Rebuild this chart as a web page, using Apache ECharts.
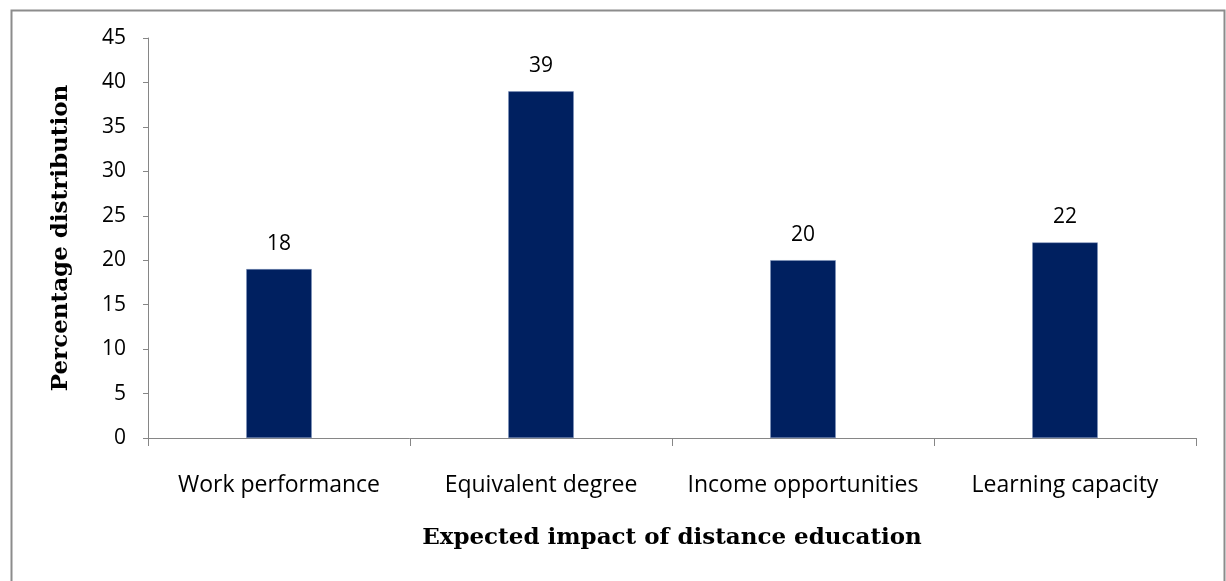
<!DOCTYPE html>
<html><head><meta charset="utf-8">
<script src="https://cdn.jsdelivr.net/npm/echarts@6/dist/echarts.min.js"></script>
<style>html,body{margin:0;padding:0;background:#fff}#c{width:1226px;height:581px}</style>
</head><body><div id="c"></div>
<script>
const categories = ["Work performance", "Equivalent degree", "Income opportunities", "Learning capacity"];
const values = [19, 39, 20, 22];
const valueLabels = ["18", "39", "20", "22"];
const yTitle = "Percentage distribution";
const xTitle = "Expected impact of distance education";

const chart = echarts.init(document.getElementById('c'));
chart.setOption({
  animation: false,
  backgroundColor: '#fff',
  graphic: [{
    type: 'rect', left: 9, top: 8,
    shape: { width: 1213, height: 600 },
    style: { fill: 'none', stroke: '#8c8c8c', lineWidth: 2 }, silent: true
  }],
  grid: { left: 148, right: 30, top: 38, bottom: 143 },
  xAxis: {
    type: 'category', data: categories,
    axisLine: { lineStyle: { color: '#868686', width: 1 } },
    axisTick: { show: true, interval: 0, length: 8, alignWithLabel: false, lineStyle: { color: '#868686' } },
    axisLabel: { interval: 0, hideOverlap: false, color: '#000', fontFamily: 'Open Sans', fontSize: 23, margin: 36 },
    name: xTitle, nameLocation: 'middle', nameGap: 89,
    nameTextStyle: { fontFamily: 'DejaVu Serif', fontWeight: 'bold', fontSize: 23, color: '#000' }
  },
  yAxis: {
    type: 'value', min: 0, max: 45, interval: 5,
    splitLine: { show: false },
    axisLine: { show: true, lineStyle: { color: '#868686', width: 1 } },
    axisTick: { show: true, length: 5, lineStyle: { color: '#868686' } },
    axisLabel: { color: '#000', fontFamily: 'Open Sans', fontSize: 21, margin: 22 },
    name: yTitle, nameLocation: 'middle', nameGap: 75, nameRotate: 90,
    nameTextStyle: { fontFamily: 'DejaVu Serif', fontWeight: 'bold', fontSize: 23, color: '#000' }
  },
  series: [{
    type: 'bar', data: values, barWidth: '25%',
    itemStyle: { color: '#002060', borderColor: '#7f93bd', borderWidth: 0.5 },
    label: {
      show: true, position: 'top', distance: 15,
      fontFamily: 'Open Sans', fontSize: 21, color: '#000',
      formatter: p => valueLabels[p.dataIndex]
    }
  }]
});
</script></body></html>
